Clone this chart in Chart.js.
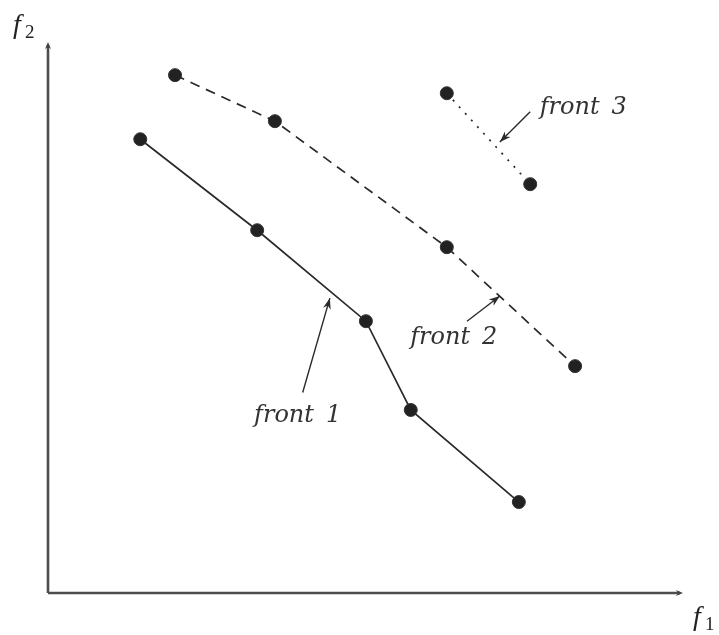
<!DOCTYPE html>
<html>
<head>
<meta charset="utf-8">
<script src="https://cdn.jsdelivr.net/npm/chart.js@4/dist/chart.umd.min.js"></script>
<style>
  html, body { margin: 0; padding: 0; background: #ffffff; }
  #wrap { width: 719px; height: 635px; }
</style>
</head>
<body>
<div id="wrap"><canvas id="c" width="719" height="635"></canvas></div>
<script>
// Objective values of each non-dominated front (f1, f2)
const front1X = [14.6, 33.1, 50.3, 57.4, 74.5];
const front1Y = [82.8, 66.2, 49.6, 33.4, 16.6];
const front2X = [20.1, 35.9, 63.1, 83.4];
const front2Y = [94.5, 86.1, 63.1, 41.4];
const front3X = [63.1, 76.3];
const front3Y = [91.2, 74.6];
const frontNames = ['front 1', 'front 2', 'front 3'];
const axisNames = [['f', '1'], ['f', '2']];

const toPoints = (xs, ys) => xs.map((x, i) => ({ x: x, y: ys[i] }));

// Callout labels: text anchor and arrow (from -> to), in data units
const callouts = [
  { text: frontNames[0], tx: 32.6, ty: 31.2, from: [40.3, 36.6], to: [44.6, 53.8] },
  { text: frontNames[1], tx: 57.3, ty: 45.4, from: [66.3, 49.6], to: [71.5, 54.2] },
  { text: frontNames[2], tx: 77.8, ty: 87.5, from: [76.3, 87.8], to: [71.5, 82.3] }
];

const INK = '#2a2a2a';
const LABEL_FONT = 'italic 24px "DejaVu Serif", "Liberation Serif", serif';

function arrowHead(ctx, x1, y1, x2, y2, len, half) {
  const a = Math.atan2(y2 - y1, x2 - x1);
  ctx.beginPath();
  ctx.moveTo(x2, y2);
  ctx.lineTo(x2 - len * Math.cos(a) + half * Math.sin(a), y2 - len * Math.sin(a) - half * Math.cos(a));
  ctx.lineTo(x2 - len * 0.7 * Math.cos(a), y2 - len * 0.7 * Math.sin(a));
  ctx.lineTo(x2 - len * Math.cos(a) - half * Math.sin(a), y2 - len * Math.sin(a) + half * Math.cos(a));
  ctx.closePath();
  ctx.fill();
}

const decorations = {
  id: 'decorations',
  afterDatasetsDraw(chart) {
    const ctx = chart.ctx;
    const xs = chart.scales.x, ys = chart.scales.y;
    const a = chart.chartArea;
    ctx.save();
    ctx.strokeStyle = '#4d4d4d';
    ctx.fillStyle = '#444';
    ctx.lineWidth = 2.6;
    // axes with arrow tips
    ctx.beginPath();
    ctx.moveTo(a.left, a.bottom);
    ctx.lineTo(a.left, a.top);
    ctx.moveTo(a.left, a.bottom);
    ctx.lineTo(a.right, a.bottom);
    ctx.stroke();
    arrowHead(ctx, a.left, a.bottom, a.left, a.top - 3, 7, 3);
    arrowHead(ctx, a.left, a.bottom, a.right + 3, a.bottom, 7, 3);

    // axis names
    ctx.fillStyle = '#222';
    ctx.textBaseline = 'alphabetic';
    ctx.font = 'italic 28px "Liberation Serif", "DejaVu Serif", serif';
    ctx.fillText(axisNames[1][0], 13, 33);
    ctx.font = '19px "Liberation Serif", "DejaVu Serif", serif';
    ctx.fillText(axisNames[1][1], 25, 38);
    ctx.font = 'italic 28px "Liberation Serif", "DejaVu Serif", serif';
    ctx.fillText(axisNames[0][0], 693, 625);
    ctx.font = '19px "Liberation Serif", "DejaVu Serif", serif';
    ctx.fillText(axisNames[0][1], 705, 630);

    // callouts
    ctx.strokeStyle = INK;
    ctx.fillStyle = INK;
    ctx.lineWidth = 1.4;
    callouts.forEach(c => {
      const x1 = xs.getPixelForValue(c.from[0]), y1 = ys.getPixelForValue(c.from[1]);
      const x2 = xs.getPixelForValue(c.to[0]), y2 = ys.getPixelForValue(c.to[1]);
      ctx.beginPath();
      ctx.moveTo(x1, y1);
      ctx.lineTo(x2, y2);
      ctx.stroke();
      arrowHead(ctx, x1, y1, x2, y2, 11, 4);
      ctx.font = LABEL_FONT;
      ctx.fillStyle = '#333';
      ctx.fillText(c.text.replace(' ', '\u2002'), xs.getPixelForValue(c.tx), ys.getPixelForValue(c.ty));
      ctx.fillStyle = INK;
    });
    ctx.restore();
  }
};

const pointStyle = {
  showLine: true,
  borderColor: INK,
  borderWidth: 1.7,
  pointRadius: 6.5,
  pointHoverRadius: 6.5,
  pointBackgroundColor: '#222',
  pointBorderColor: '#333',
  pointBorderWidth: 1,
  tension: 0,
  clip: false
};

new Chart(document.getElementById('c'), {
  type: 'scatter',
  data: {
    datasets: [
      Object.assign({ label: frontNames[0], data: toPoints(front1X, front1Y) }, pointStyle),
      Object.assign({ label: frontNames[1], data: toPoints(front2X, front2Y), borderDash: [10, 7], borderWidth: 2 }, pointStyle),
      Object.assign({ label: frontNames[2], data: toPoints(front3X, front3Y), borderDash: [2, 7], borderWidth: 2 }, pointStyle)
    ]
  },
  options: {
    responsive: false,
    animation: false,
    layout: { padding: { left: 48, top: 45, right: 39, bottom: 42 } },
    scales: {
      x: { type: 'linear', min: 0, max: 100, display: false },
      y: { type: 'linear', min: 0, max: 100, display: false }
    },
    plugins: { legend: { display: false }, tooltip: { enabled: false } }
  },
  plugins: [decorations]
});
</script>
</body>
</html>
